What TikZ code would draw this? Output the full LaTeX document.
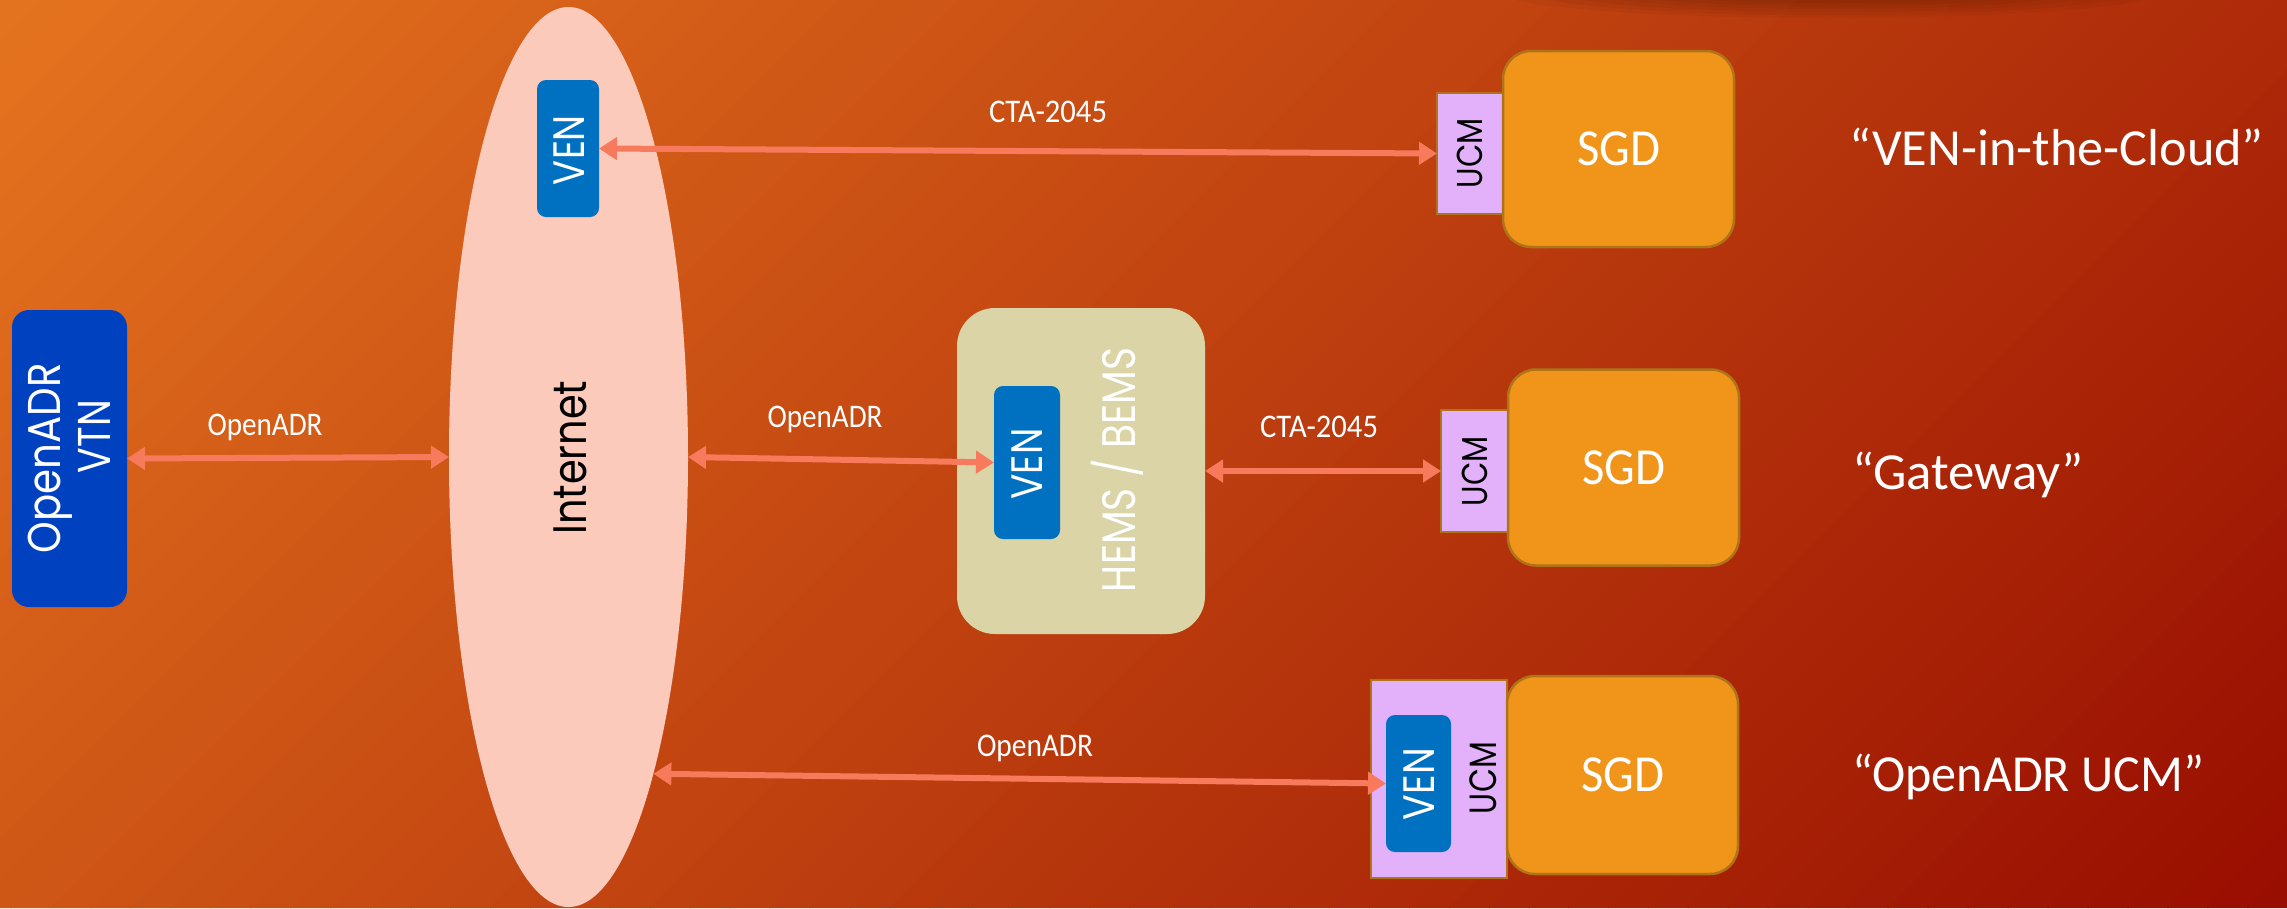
\documentclass[tikz,border=0pt]{standalone}
\usepackage{fontspec}
\usepackage{graphicx}
\usetikzlibrary{arrows.meta,shapes.geometric}
\newfontfamily\popp{Poppins}
\newfontfamily\carl{Carlito}
\definecolor{bgTL}{RGB}{229,116,31}
\definecolor{bgBR}{RGB}{152,13,0}
\definecolor{vtnblue}{RGB}{0,65,192}
\definecolor{venblue}{RGB}{0,112,192}
\definecolor{inetfill}{RGB}{251,202,187}
\definecolor{hemsfill}{RGB}{218,212,166}
\definecolor{ucmfill}{RGB}{226,177,250}
\definecolor{sgdfill}{RGB}{240,149,26}
\definecolor{sgdline}{RGB}{176,116,24}
\definecolor{arrowc}{RGB}{247,122,92}
\newcommand{\rsz}[2]{\resizebox{#1}{\height}{#2}}
\tikzset{
  vtnbox/.style={rectangle, rounded corners=17pt, fill=vtnblue, inner sep=0pt, outer sep=0pt},
  venbox/.style={rectangle, rounded corners=9pt, fill=venblue, inner sep=0pt, outer sep=0pt},
  hemsbox/.style={rectangle, rounded corners=38pt, fill=hemsfill, inner sep=0pt, outer sep=0pt},
  ucmbox/.style={rectangle, fill=ucmfill, draw=sgdline, line width=2pt, inner sep=0pt, outer sep=0pt},
  sgdbox/.style={rectangle, rounded corners=28pt, fill=sgdfill, draw=sgdline, line width=2.5pt,
     inner sep=0pt, outer sep=0pt, minimum width=231pt, text=white, font=\carl\fontsize{52pt}{60pt}\selectfont},
  cloud/.style={ellipse, fill=inetfill, inner sep=0pt, outer sep=0pt},
  rtxt/.style={rotate=90, inner sep=0pt, outer sep=0pt, text depth=0pt},
  geo/.style={font=\popp\fontsize{#1}{#1}\selectfont},
  lbl/.style={inner sep=0pt, outer sep=0pt, text=white, anchor=base, font=\carl\fontsize{33pt}{40pt}\selectfont},
  biglbl/.style={inner sep=0pt, outer sep=0pt, text=white, anchor=base west, font=\carl\fontsize{52pt}{60pt}\selectfont},
  biarrow/.style={draw=arrowc, line width=6pt, {Triangle[length=18pt,width=22pt]}-{Triangle[length=18pt,width=22pt]}}
}
\begin{document}
\begin{tikzpicture}[x=1pt,y=-1pt]
\useasboundingbox (0,0) rectangle (2287,908);
% background gradient
\begin{scope}
  \clip (0,0) rectangle (2287,908);
  \foreach \i in {0,...,79}{
    \pgfmathsetmacro{\sa}{\i*39.9375}
    \pgfmathsetmacro{\sb}{\i*39.9375+41.5}
    \pgfmathsetmacro{\pc}{(\i+0.5)*1.25}
    \fill[bgBR!\pc!bgTL] (\sa,0) -- (\sb,0) -- (\sb-908,908) -- (\sa-908,908) -- cycle;
  }
  \foreach \r/\q in {330/26,300/23,270/20,240/17,210/14,180/11,150/8}{
    \fill[black, fill opacity=0.035] (1830,-8) ellipse [x radius=\r, y radius=\q];
  }
\end{scope}

% Internet cloud
\node[cloud, minimum width=239pt, minimum height=900pt] (inet) at (568.5,457) {};

% boxes
\node[vtnbox, minimum width=115pt, minimum height=297pt] (vtn) at (69.5,458.5) {};
\node[venbox, minimum width=62pt, minimum height=137pt] (venc) at (568,148.5) {};
\node[hemsbox, minimum width=248pt, minimum height=326pt] (hems) at (1081,471) {};
\node[venbox, minimum width=66pt, minimum height=153pt] (venh) at (1027,462.5) {};

\node[ucmbox, minimum width=66pt, minimum height=121pt] (ucma) at (1470,153.5) {};
\node[ucmbox, minimum width=68pt, minimum height=122pt] (ucmb) at (1475,471) {};
\node[ucmbox, minimum width=136pt, minimum height=198pt] (ucmc) at (1439,779) {};
\node[venbox, minimum width=65pt, minimum height=137pt] (venb) at (1418.5,783.5) {};

\node[sgdbox, minimum height=196pt] (sgda) at (1618.5,149) {\rsz{83pt}{SGD}};
\node[sgdbox, minimum height=196pt] (sgdb) at (1623.5,467.5) {\rsz{83pt}{SGD}};
\node[sgdbox, minimum height=198pt] (sgdc) at (1622.5,775) {\rsz{83pt}{SGD}};

% connectors
\draw[biarrow] (vtn.east) -- (inet.west);
\draw[biarrow] (inet.east) -- (venh.west);
\draw[biarrow] (venc.east) -- (ucma.west);
\draw[biarrow] (hems.east) -- (ucmb.west);
\draw[biarrow] (inet.-75.5) -- (venb.west);

% rotated texts
\node[rtxt, geo=46pt, text=white, text height=32pt] (vtnA) at (44,458) {\rsz{190pt}{OpenADR}};
\node[rtxt, geo=46pt, text=white, text height=31pt] (vtnB) at (95,436.5) {\rsz{73pt}{VTN}};
\node[rtxt, geo=47pt, text=black, text height=33pt] (inett) at (570,457.5) {\rsz{154pt}{Internet}};
\node[rtxt, geo=47pt, text=white, text height=33pt] (hemst) at (1119,470) {\rsz{244pt}{HEMS / BEMS}};
\node[rtxt, geo=44pt, text=white, text height=31pt] (venct) at (569,150) {\rsz{70pt}{VEN}};
\node[rtxt, geo=44pt, text=white, text height=31pt] (venht) at (1027,464) {\rsz{71pt}{VEN}};
\node[rtxt, geo=44pt, text=white, text height=31pt] (venbt) at (1419,784) {\rsz{72pt}{VEN}};
\node[rtxt, geo=36pt, text=black, text height=25pt] (ucmat) at (1470,153) {\rsz{70pt}{UCM}};
\node[rtxt, geo=36pt, text=black, text height=25pt] (ucmbt) at (1475,471) {\rsz{70pt}{UCM}};
\node[rtxt, geo=38pt, text=black, text height=27pt] (ucmct) at (1483,778) {\rsz{72pt}{UCM}};

% connector labels
\node[lbl] (l1) at (265,435.5) {\rsz{115pt}{OpenADR}};
\node[lbl] (l2) at (825,427.5) {\rsz{115pt}{OpenADR}};
\node[lbl] (l3) at (1048,122.5) {\rsz{118pt}{CTA-2045}};
\node[lbl] (l4) at (1319,437.5) {\rsz{118pt}{CTA-2045}};
\node[lbl] (l5) at (1035,756) {\rsz{116pt}{OpenADR}};

% right-hand captions
\node[biglbl] (c1) at (1849,165) {\rsz{415pt}{“VEN-in-the-Cloud”}};
\node[biglbl] (c2) at (1852,489.5) {\rsz{232pt}{“Gateway”}};
\node[biglbl] (c3) at (1852,791.5) {\rsz{352pt}{“OpenADR UCM”}};
\end{tikzpicture}
\end{document}
